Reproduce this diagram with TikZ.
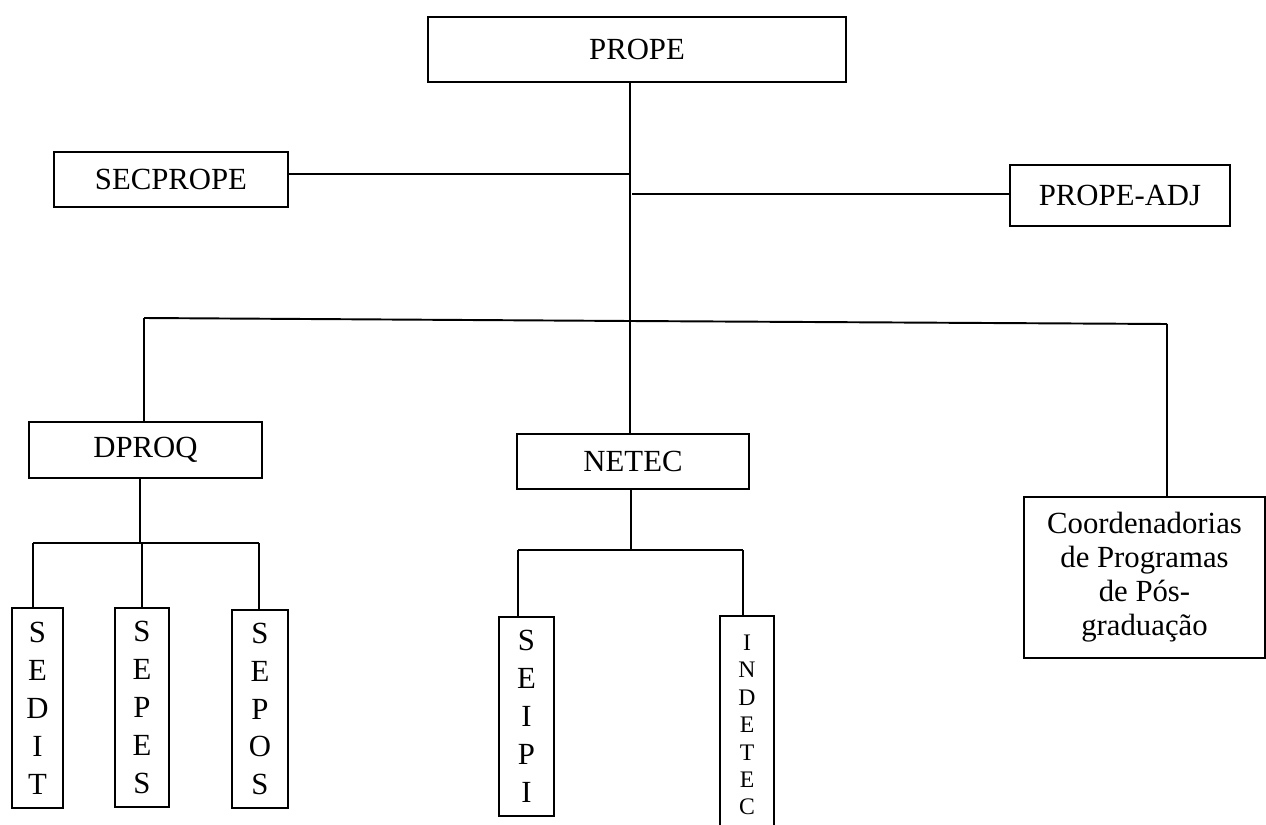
\documentclass[tikz,border=0pt]{standalone}
\usepackage{fontspec}
\setmainfont{Liberation Serif}
\usepackage{tikz}
\usetikzlibrary{positioning,calc}

\begin{document}
\begin{tikzpicture}[x=0.02cm, y=-0.02cm, line width=1.1pt,
    box/.style={draw, line width=1.2pt, inner sep=0pt, align=center,
      font=\fontsize{17.5}{19.4}\selectfont},
    vbox/.style={box, font=\fontsize{17.5}{21.6}\selectfont},
    vsmall/.style={box, font=\fontsize{13.5}{15.6}\selectfont}]
  \clip (0,0) rectangle (1266,824);
  \node[box, minimum width=8.36cm, minimum height=1.3cm]  (prope)    at (637,49.5)    {PROPE};
  \node[box, minimum width=4.68cm, minimum height=1.1cm]  (secprope) at (171,179.5)   {SECPROPE};
  \node[box, minimum width=4.4cm,  minimum height=1.22cm] (adj)      at (1120,195.5)  {PROPE-ADJ};
  \node[box, minimum width=4.66cm, minimum height=1.12cm] (dproq)    at (145.5,450)   {DPROQ};
  \node[box, minimum width=4.64cm, minimum height=1.1cm]  (netec)    at (633,461.5)   {NETEC};
  \node[box, minimum width=4.82cm, minimum height=3.22cm] (coord)    at (1144.5,577.5)
    {Coordenadorias\\de Programas\\de Pós-\\graduação};
  \node[vbox, minimum width=1.02cm, minimum height=4cm]    (sedit)   at (37.5,708)  {S\\E\\D\\I\\T};
  \node[vbox, minimum width=1.08cm, minimum height=3.98cm] (sepes)   at (142,707.5) {S\\E\\P\\E\\S};
  \node[vbox, minimum width=1.12cm, minimum height=3.96cm] (sepos)   at (260,709)   {S\\E\\P\\O\\S};
  \node[vbox, minimum width=1.1cm,  minimum height=3.98cm] (seipi)   at (526.5,716.5) {S\\E\\I\\P\\I};
  \node[vsmall, minimum width=1.08cm, minimum height=4.36cm] (indetec) at (747,725) {I\\N\\D\\E\\T\\E\\C};

  \coordinate (secj) at (630,174);
  \coordinate (adjj) at (632,194);
  \coordinate (busl) at (144,318);
  \coordinate (busm) at (630,321);
  \coordinate (busr) at (1167,324);
  \coordinate (dl) at (33,543);
  \coordinate (dj) at (140,543);
  \coordinate (dr) at (259,543);
  \coordinate (nl) at (518,550);
  \coordinate (nj) at (631,550);
  \coordinate (nr) at (743,550);

  \draw (prope.south -| busm) -- (busm |- netec.north);
  \draw (secprope.east |- secj) -- (secj);
  \draw (adjj) -- (adj.west |- adjj);
  \draw (busl) -- (busm) -- (busr);
  \draw (busl) -- (busl |- dproq.north);
  \draw (busr) -- (busr |- coord.north);

  \draw (dproq.south -| dj) -- (dj);
  \draw (dl) -- (dr);
  \draw (dl) -- (dl |- sedit.north);
  \draw (sepes.north |- dj) -- (sepes.north);
  \draw (dr) -- (dr |- sepos.north);

  \draw (netec.south -| nj) -- (nj);
  \draw (nl) -- (nr);
  \draw (nl) -- (nl |- seipi.north);
  \draw (nr) -- (nr |- indetec.north);
\end{tikzpicture}
\end{document}
